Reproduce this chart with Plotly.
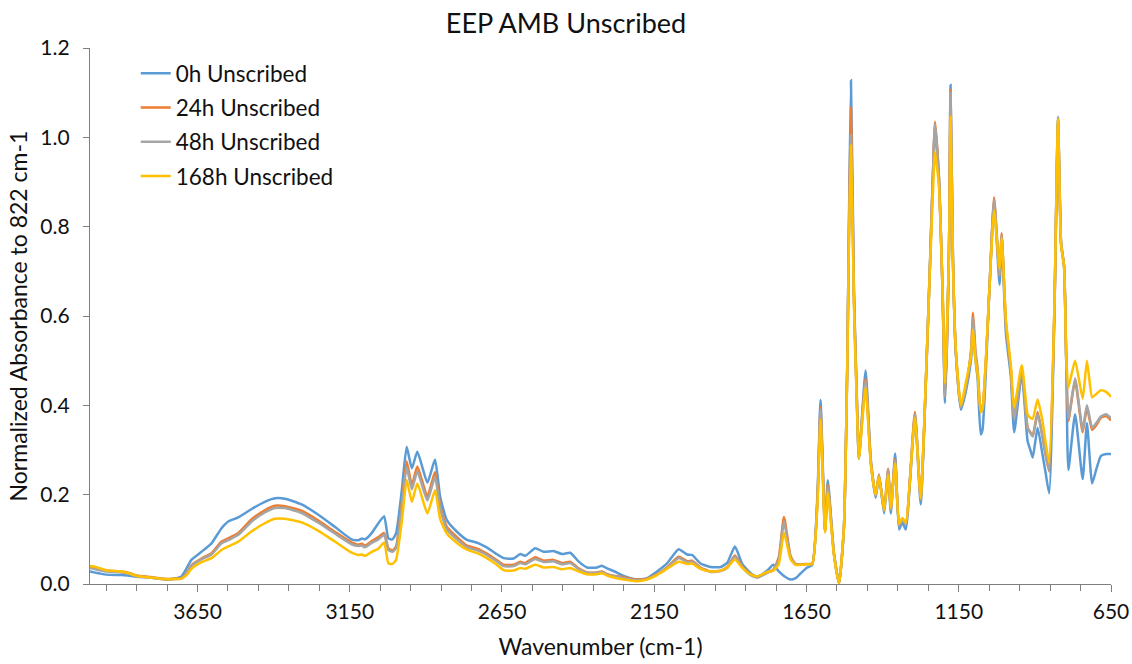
import plotly.graph_objects as go

# Wavenumber grid (cm-1), high to low
wavenumber = [
    4003, 3990, 3950, 3900, 3880, 3850, 3800, 3757, 3725, 3703,
    3686, 3670, 3637, 3604, 3571, 3549, 3516, 3472, 3429, 3396,
    3363, 3308, 3253, 3199, 3144, 3122, 3110, 3100, 3078, 3056,
    3037, 3023, 3010, 2998, 2979, 2963, 2946, 2928, 2895, 2870,
    2853, 2831, 2798, 2765, 2740, 2727, 2700, 2670, 2645, 2612,
    2590, 2574, 2541, 2513, 2481, 2453, 2426, 2398, 2371, 2338,
    2322, 2305, 2280, 2250, 2206, 2174, 2141, 2108, 2070, 2042,
    2026, 1998, 1965, 1932, 1910, 1885, 1861, 1835, 1812, 1779,
    1759, 1741, 1724, 1702, 1686, 1669, 1650, 1631, 1614, 1604,
    1589, 1580, 1560, 1543, 1527, 1516, 1511, 1504, 1494, 1485,
    1478, 1456, 1439, 1423, 1412, 1395, 1382, 1373, 1359, 1346,
    1335, 1324, 1294, 1275, 1258, 1244, 1231, 1228, 1215, 1203,
    1195, 1182, 1177, 1169, 1160, 1143, 1127, 1110, 1103, 1095,
    1088, 1078, 1072, 1050, 1034, 1016, 1009, 995, 979, 968,
    943, 924, 915, 907, 891, 875, 865, 853, 836, 824,
    814, 804, 797, 790, 768, 743, 729, 712, 699, 683,
    666, 650,
]

abs_0h = [
    0.028, 0.026, 0.021, 0.020, 0.019, 0.016, 0.014, 0.011, 0.012, 0.017,
    0.035, 0.054, 0.072, 0.091, 0.125, 0.140, 0.149, 0.168, 0.184, 0.192,
    0.191, 0.178, 0.155, 0.128, 0.100, 0.098, 0.102, 0.100, 0.114, 0.136,
    0.152, 0.102, 0.100, 0.113, 0.210, 0.307, 0.259, 0.296, 0.227, 0.279,
    0.195, 0.143, 0.117, 0.099, 0.094, 0.091, 0.082, 0.068, 0.058, 0.057,
    0.067, 0.063, 0.080, 0.072, 0.074, 0.067, 0.070, 0.050, 0.037, 0.037,
    0.041, 0.035, 0.028, 0.018, 0.010, 0.013, 0.028, 0.046, 0.078, 0.066,
    0.065, 0.046, 0.038, 0.038, 0.048, 0.084, 0.045, 0.025, 0.016, 0.030,
    0.043, 0.028, 0.018, 0.010, 0.013, 0.024, 0.036, 0.043, 0.200, 0.412,
    0.120, 0.232, 0.070, 0.001, 0.128, 0.500, 0.786, 1.128, 0.650, 0.427,
    0.280, 0.478, 0.280, 0.193, 0.242, 0.158, 0.250, 0.158, 0.292, 0.122,
    0.138, 0.122, 0.375, 0.178, 0.450, 0.725, 0.990, 1.020, 0.910, 0.650,
    0.405, 0.750, 1.117, 0.725, 0.524, 0.390, 0.430, 0.500, 0.565, 0.500,
    0.460, 0.335, 0.345, 0.650, 0.855, 0.670, 0.775, 0.560, 0.465, 0.340,
    0.470, 0.320, 0.300, 0.283, 0.350, 0.290, 0.250, 0.203, 0.600, 1.040,
    0.763, 0.710, 0.500, 0.255, 0.380, 0.235, 0.360, 0.225, 0.255, 0.287,
    0.291, 0.291,
]

abs_24h = [
    0.040, 0.038, 0.030, 0.028, 0.026, 0.019, 0.015, 0.011, 0.012, 0.013,
    0.024, 0.042, 0.057, 0.069, 0.095, 0.102, 0.114, 0.145, 0.165, 0.175,
    0.174, 0.164, 0.142, 0.117, 0.093, 0.088, 0.090, 0.086, 0.096, 0.105,
    0.114, 0.080, 0.075, 0.084, 0.180, 0.274, 0.222, 0.263, 0.196, 0.251,
    0.175, 0.128, 0.105, 0.086, 0.081, 0.078, 0.068, 0.055, 0.043, 0.043,
    0.050, 0.047, 0.060, 0.052, 0.054, 0.047, 0.050, 0.035, 0.026, 0.026,
    0.028, 0.022, 0.018, 0.015, 0.010, 0.012, 0.022, 0.037, 0.061, 0.051,
    0.052, 0.037, 0.028, 0.030, 0.038, 0.064, 0.040, 0.022, 0.016, 0.026,
    0.032, 0.060, 0.150, 0.062, 0.045, 0.044, 0.045, 0.046, 0.190, 0.395,
    0.118, 0.222, 0.068, 0.001, 0.128, 0.495, 0.770, 1.068, 0.640, 0.420,
    0.282, 0.460, 0.275, 0.200, 0.245, 0.165, 0.258, 0.168, 0.280, 0.132,
    0.146, 0.135, 0.385, 0.190, 0.455, 0.725, 0.995, 1.035, 0.910, 0.650,
    0.420, 0.750, 1.106, 0.725, 0.524, 0.397, 0.440, 0.520, 0.607, 0.520,
    0.480, 0.390, 0.395, 0.650, 0.866, 0.690, 0.785, 0.580, 0.480, 0.370,
    0.480, 0.350, 0.340, 0.332, 0.385, 0.330, 0.290, 0.252, 0.610, 1.040,
    0.763, 0.710, 0.500, 0.365, 0.455, 0.340, 0.395, 0.345, 0.355, 0.372,
    0.376, 0.366,
]

abs_48h = [
    0.036, 0.034, 0.028, 0.026, 0.024, 0.018, 0.014, 0.010, 0.011, 0.012,
    0.022, 0.040, 0.055, 0.066, 0.091, 0.098, 0.110, 0.140, 0.160, 0.170,
    0.170, 0.159, 0.137, 0.113, 0.089, 0.085, 0.086, 0.082, 0.092, 0.100,
    0.110, 0.076, 0.072, 0.080, 0.172, 0.262, 0.212, 0.252, 0.187, 0.240,
    0.168, 0.122, 0.100, 0.082, 0.077, 0.074, 0.065, 0.052, 0.040, 0.040,
    0.047, 0.044, 0.056, 0.049, 0.051, 0.044, 0.047, 0.033, 0.025, 0.025,
    0.027, 0.021, 0.017, 0.013, 0.008, 0.011, 0.021, 0.035, 0.058, 0.049,
    0.050, 0.035, 0.027, 0.029, 0.036, 0.061, 0.038, 0.020, 0.014, 0.025,
    0.031, 0.055, 0.140, 0.058, 0.044, 0.043, 0.044, 0.045, 0.188, 0.390,
    0.118, 0.218, 0.068, 0.001, 0.128, 0.490, 0.760, 1.005, 0.630, 0.420,
    0.282, 0.455, 0.272, 0.198, 0.243, 0.165, 0.255, 0.166, 0.276, 0.130,
    0.145, 0.134, 0.380, 0.188, 0.455, 0.725, 0.990, 1.030, 0.905, 0.650,
    0.420, 0.750, 1.100, 0.725, 0.524, 0.395, 0.440, 0.515, 0.595, 0.510,
    0.475, 0.385, 0.390, 0.650, 0.860, 0.690, 0.780, 0.580, 0.480, 0.370,
    0.478, 0.350, 0.338, 0.330, 0.380, 0.330, 0.290, 0.255, 0.610, 1.046,
    0.763, 0.710, 0.500, 0.370, 0.460, 0.345, 0.400, 0.350, 0.360, 0.375,
    0.380, 0.371,
]

abs_168h = [
    0.040, 0.039, 0.031, 0.028, 0.025, 0.018, 0.014, 0.011, 0.011, 0.012,
    0.020, 0.034, 0.049, 0.058, 0.076, 0.084, 0.095, 0.118, 0.136, 0.146,
    0.146, 0.138, 0.119, 0.095, 0.070, 0.065, 0.066, 0.063, 0.072, 0.079,
    0.093, 0.046, 0.045, 0.054, 0.140, 0.233, 0.184, 0.225, 0.158, 0.210,
    0.145, 0.113, 0.092, 0.077, 0.071, 0.068, 0.058, 0.045, 0.031, 0.030,
    0.036, 0.034, 0.043, 0.037, 0.038, 0.033, 0.036, 0.028, 0.022, 0.022,
    0.024, 0.019, 0.014, 0.010, 0.006, 0.010, 0.020, 0.034, 0.050, 0.045,
    0.046, 0.034, 0.028, 0.030, 0.037, 0.055, 0.036, 0.022, 0.017, 0.027,
    0.030, 0.045, 0.115, 0.055, 0.043, 0.043, 0.044, 0.045, 0.180, 0.368,
    0.115, 0.205, 0.066, 0.001, 0.128, 0.485, 0.750, 0.983, 0.620, 0.410,
    0.280, 0.440, 0.270, 0.200, 0.240, 0.165, 0.245, 0.170, 0.270, 0.135,
    0.148, 0.137, 0.372, 0.192, 0.455, 0.715, 0.940, 0.968, 0.890, 0.660,
    0.450, 0.740, 1.046, 0.720, 0.530, 0.400, 0.450, 0.510, 0.570, 0.500,
    0.470, 0.385, 0.392, 0.650, 0.837, 0.705, 0.775, 0.590, 0.490, 0.395,
    0.490, 0.380, 0.372, 0.370, 0.413, 0.365, 0.318, 0.272, 0.615, 1.040,
    0.760, 0.710, 0.510, 0.440, 0.500, 0.415, 0.500, 0.418, 0.425, 0.434,
    0.430, 0.419,
]

series_names = ["0h Unscribed", "24h Unscribed", "48h Unscribed", "168h Unscribed"]
series_values = [abs_0h, abs_24h, abs_48h, abs_168h]
series_colors = ["#5B9BD5", "#ED7D31", "#A5A5A5", "#FFC000"]

x_tick_values = [3650, 3150, 2650, 2150, 1650, 1150, 650]
x_tick_labels = ["3650", "3150", "2650", "2150", "1650", "1150", "650"]

for vals in series_values:
    assert len(vals) == len(wavenumber)

FONT = "Lato, 'Open Sans', sans-serif"
TEXT = "#111111"
AXIS = "#7f7f7f"

fig = go.Figure()
for name, vals, color in zip(series_names, series_values, series_colors):
    fig.add_trace(go.Scatter(
        x=wavenumber, y=vals, mode="lines", name=name, legendgroup=name,
        line=dict(color=color, width=2.5, shape="spline", smoothing=0.5),
    ))

fig.update_layout(
    width=1132, height=664,
    margin=dict(l=90, r=21, t=48, b=80, autoexpand=False),
    paper_bgcolor="white", plot_bgcolor="white",
    font=dict(family=FONT, color=TEXT, size=21),
    title=dict(text="EEP AMB Unscribed", x=0.5, xanchor="center",
               y=1 - 24 / 664, yanchor="middle",
               font=dict(family=FONT, size=27, color=TEXT)),
    showlegend=True,
    legend=dict(x=0.0448, y=0.9925, xanchor="left", yanchor="top",
                bgcolor="rgba(0,0,0,0)", font=dict(size=22.5, color=TEXT),
                tracegroupgap=2, traceorder="grouped"),
)

fig.update_xaxes(
    range=[4003, 650], automargin=False,
    tickmode="array", tickvals=x_tick_values, ticktext=x_tick_labels,
    ticks="outside", ticklen=7, tickwidth=1, tickcolor=AXIS,
    minor=dict(tickmode="array", tickvals=list(range(3950, 650, -100)),
               ticks="outside", ticklen=6, tickwidth=1, tickcolor=AXIS),
    showline=True, linecolor=AXIS, linewidth=1.3,
    showgrid=False, zeroline=False, ticklabelstandoff=2,
    title=dict(text="Wavenumber (cm-1)", standoff=16, font=dict(size=23)),
    tickfont=dict(size=21),
)

fig.update_yaxes(
    range=[0, 1.2], automargin=False,
    tickmode="linear", tick0=0, dtick=0.2, tickformat=".1f",
    ticks="outside", ticklen=6, tickwidth=1, tickcolor=AXIS,
    showline=True, linecolor=AXIS, linewidth=1.3,
    showgrid=False, zeroline=False, ticklabelstandoff=9,
    title=dict(text="Normalized Absorbance to 822 cm-1", standoff=6, font=dict(size=23)),
    tickfont=dict(size=21),
)

fig.write_html("out.html", config={"displayModeBar": False, "responsive": False})
